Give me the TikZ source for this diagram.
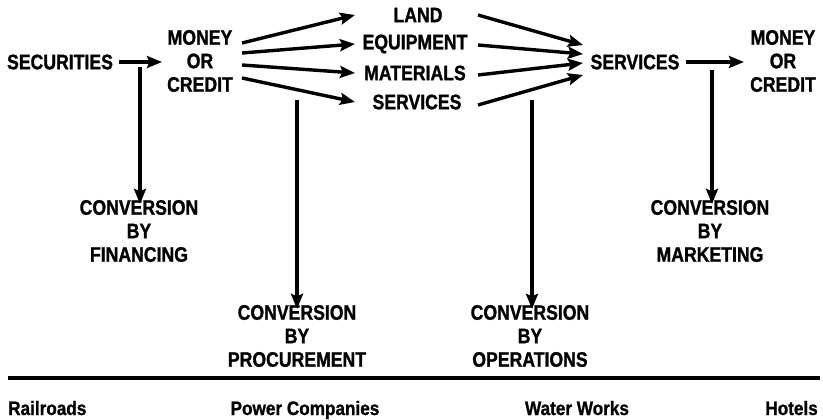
\documentclass[tikz,border=0pt]{standalone}
\usepackage{fontspec}
\newfontfamily\cond{Liberation Sans}[FakeStretch=0.84,FakeBold=1.2]
\newfontfamily\condb{Liberation Sans}[FakeStretch=0.88,FakeBold=1]
\usetikzlibrary{arrows.meta}
\begin{document}
\begin{tikzpicture}[x=1pt,y=-1pt,
  lbl/.style={inner sep=0pt,align=center,font=\cond\bfseries\fontsize{21}{23.5}\selectfont},
  bot/.style={inner sep=0pt,anchor=base,font=\condb\bfseries\fontsize{19.5}{20}\selectfont},
  arr/.style={line width=3.4pt,-{Stealth[length=15pt,width=12pt,inset=2.5pt]}},
  vline/.style={line width=3.4pt,-{Stealth[length=15pt,width=12pt,inset=2.5pt]}}]
\useasboundingbox (0,0) rectangle (823,420);
% nodes
\node[lbl] (sec) at (60,62) {SECURITIES};
\node[lbl] (mon1) at (200,61) {MONEY\\OR\\CREDIT};
\node[lbl] (land) at (418,15) {LAND};
\node[lbl] (equip) at (415,44) {EQUIPMENT};
\node[lbl] (mat) at (415,73) {MATERIALS};
\node[lbl] (serv1) at (417,102) {SERVICES};
\node[lbl] (serv2) at (635,62) {SERVICES};
\node[lbl] (mon2) at (783,61) {MONEY\\OR\\CREDIT};
\node[lbl] (fin) at (139,231) {CONVERSION\\BY\\FINANCING};
\node[lbl] (proc) at (297,336) {CONVERSION\\BY\\PROCUREMENT};
\node[lbl] (ops) at (530,336) {CONVERSION\\BY\\OPERATIONS};
\node[lbl] (mkt) at (710,231) {CONVERSION\\BY\\MARKETING};
% connector end points
\coordinate (s1) at (242,43);
\coordinate (s2) at (242,53);
\coordinate (s3) at (242,65);
\coordinate (s4) at (242,78);
\coordinate (t1) at (355,15);
\coordinate (t2) at (355,44);
\coordinate (t3) at (355,73);
\coordinate (t4) at (355,102);
\coordinate (u1) at (478,15);
\coordinate (u2) at (478,45);
\coordinate (u3) at (478,75);
\coordinate (u4) at (478,105);
\coordinate (v1) at (583,45);
\coordinate (v2) at (583,54);
\coordinate (v3) at (583,63);
\coordinate (v4) at (583,75);
\coordinate (fa) at (140,67);
\coordinate (pa) at (297,100);
\coordinate (oa) at (532,100);
\coordinate (ma) at (712,70);
% arrows
\draw[arr] ([xshift=6pt]sec.east) -- ([xshift=-5pt]mon1.west |- sec.east);
\draw[arr] (s1) -- (t1);
\draw[arr] (s2) -- (t2);
\draw[arr] (s3) -- (t3);
\draw[arr] (s4) -- (t4);
\draw[arr] (u1) -- (v1);
\draw[arr] (u2) -- (v2);
\draw[arr] (u3) -- (v3);
\draw[arr] (u4) -- (v4);
\draw[arr] ([xshift=6pt]serv2.east) -- ([xshift=-6pt]mon2.west |- serv2.east);
\draw[vline] (fa) -- ([yshift=-4pt]fin.north -| fa);
\draw[vline] (pa) -- ([yshift=-4pt]proc.north -| pa);
\draw[vline] (oa) -- ([yshift=-4pt]ops.north -| oa);
\draw[vline] (ma) -- ([yshift=-4pt]mkt.north -| ma);
% bottom rule and labels
\coordinate (rl) at (8,378);
\coordinate (rr) at (820,378);
\draw[line width=3.5pt] (rl) -- (rr);
\node[bot,anchor=base west] (rail) at (8,415) {Railroads};
\node[bot] (pow) at (305,415) {Power Companies};
\node[bot] (wat) at (577,415) {Water Works};
\node[bot,anchor=base east] (hot) at (818,415) {Hotels};
\end{tikzpicture}
\end{document}
